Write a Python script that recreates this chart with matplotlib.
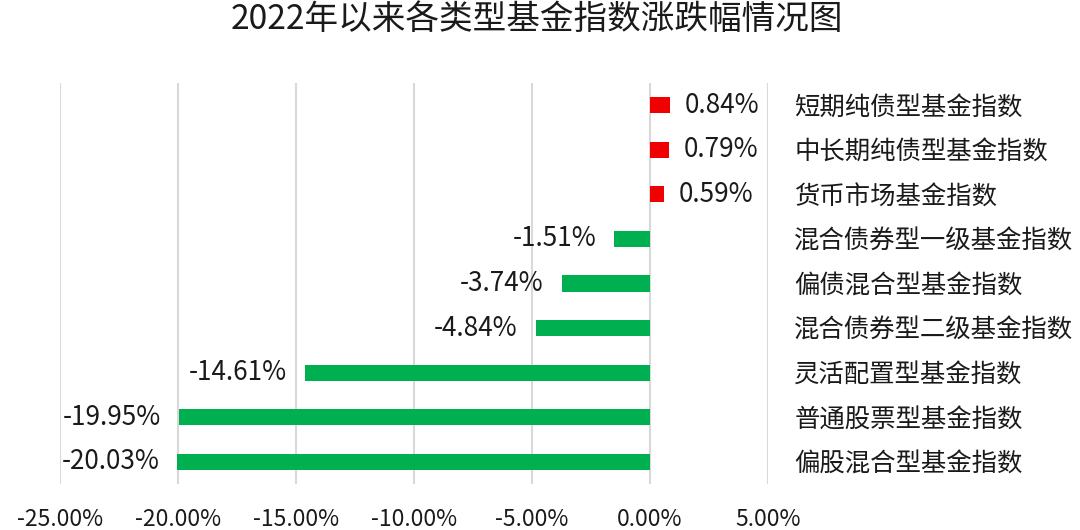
import matplotlib
matplotlib.use("Agg")
import matplotlib.pyplot as plt
from matplotlib.ticker import FuncFormatter

plt.rcParams['font.family'] = ['Noto Sans CJK SC', 'DejaVu Sans']

# data, top row first
categories = ['短期纯债型基金指数', '中长期纯债型基金指数', '货币市场基金指数',
              '混合债券型一级基金指数', '偏债混合型基金指数', '混合债券型二级基金指数',
              '灵活配置型基金指数', '普通股票型基金指数', '偏股混合型基金指数']
changes = [0.84, 0.79, 0.59, -1.51, -3.74, -4.84, -14.61, -19.95, -20.03]
x_ticks = [-25, -20, -15, -10, -5, 0, 5]

title = '2022年以来各类型基金指数涨跌幅情况图'
up_colour = '#F00000'
down_colour = '#00B050'

fig = plt.figure(figsize=(10.8, 5.3), dpi=100)
ax = fig.add_axes([60 / 1080, 1 - 484 / 530, 708 / 1080, 401 / 530])

rows = list(range(len(categories)))
colours = [up_colour if v > 0 else down_colour for v in changes]
ax.barh(rows, changes, height=0.36, color=colours, zorder=3)

for r, v in zip(rows, changes):
    if v > 0:
        ax.annotate('%.2f%%' % v, (v, r), xytext=(11, 0), textcoords='offset points',
                    ha='left', va='center', fontsize=18.8, color='#1a1a1a')
    else:
        ax.annotate('%.2f%%' % v, (v, r), xytext=(-13, 0), textcoords='offset points',
                    ha='right', va='center', fontsize=18.8, color='#1a1a1a')

ax.set_xlim(-25, 5)
ax.set_ylim(len(categories) - 0.5, -0.5)
ax.set_xticks(x_ticks)
ax.xaxis.set_major_formatter(FuncFormatter(lambda x, pos: '%.2f%%' % x))
ax.set_yticks(rows)
ax.set_yticklabels(categories)
ax.yaxis.tick_right()

ax.grid(axis='x', color='#D9D9D9', linewidth=1.5, zorder=0)
for s in ax.spines.values():
    s.set_visible(False)
ax.tick_params(axis='x', length=0, pad=17, labelsize=16.5, labelcolor='#1a1a1a')
ax.tick_params(axis='y', length=0, pad=19, labelsize=18.3, labelcolor='#1a1a1a')

fig.text(0.497, 0.963, title, ha='center', va='center', fontsize=24.2, color='#1a1a1a')

fig.savefig('out.png', dpi=100)
